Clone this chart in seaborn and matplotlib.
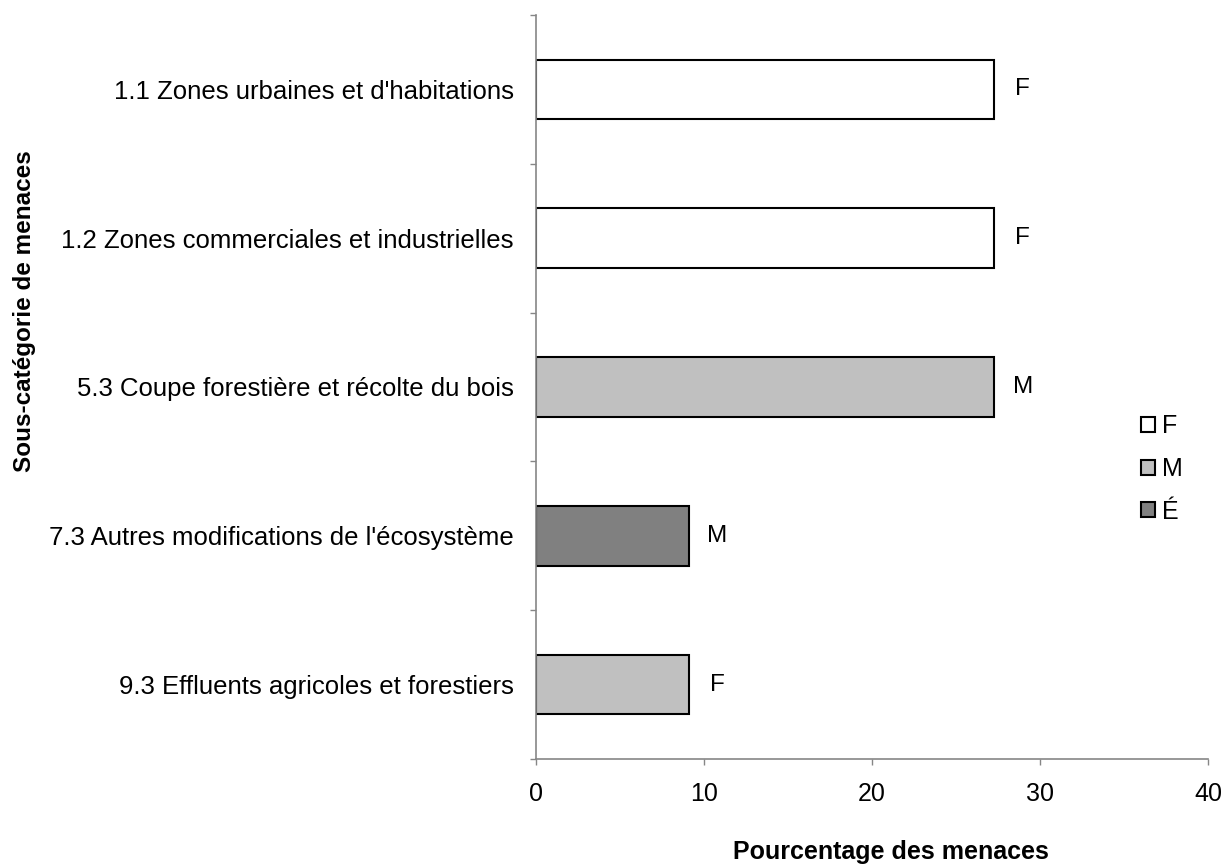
import matplotlib
matplotlib.use("Agg")
import matplotlib.pyplot as plt
from matplotlib.patches import Patch
import seaborn as sns
import pandas as pd

categories = [
    "1.1 Zones urbaines et d'habitations",
    "1.2 Zones commerciales et industrielles",
    "5.3 Coupe forestière et récolte du bois",
    "7.3 Autres modifications de l'écosystème",
    "9.3 Effluents agricoles et forestiers",
]
values = [27.27, 27.27, 27.27, 9.09, 9.09]
fill_level = ["F", "F", "M", "É", "M"]
bar_labels = ["F", "F", "M", "M", "F"]
legend_order = ["F", "M", "É"]
palette = {"F": "#FFFFFF", "M": "#C0C0C0", "É": "#808080"}

sns.set_style("white")
plt.rcParams["font.family"] = ["Liberation Sans", "DejaVu Sans"]
plt.rcParams["text.color"] = "black"
plt.rcParams["xtick.color"] = "black"
plt.rcParams["ytick.color"] = "black"

df = pd.DataFrame({"cat": categories, "val": values, "lvl": fill_level})

fig = plt.figure(figsize=(12.28, 8.67), dpi=100)
ax = fig.add_axes([536 / 1228, 1 - 759 / 867, (1208 - 536) / 1228, (759 - 15) / 867])
sns.barplot(data=df, y="cat", x="val", hue="lvl", hue_order=legend_order,
            palette=palette, dodge=False, edgecolor="black", linewidth=1.5,
            width=0.4, ax=ax, legend=False, order=categories)

for i, (v, t) in enumerate(zip(values, bar_labels)):
    ax.text(v + 1.7, i, t, va="center", ha="center", fontsize=17.5, color="black")

ax.set_xlim(0, 40)
ax.set_ylim(len(categories) - 0.5, -0.5)
ax.set_xticks([0, 10, 20, 30, 40])
ax.set_yticks(range(len(categories)))
ax.set_yticklabels(categories, fontsize=18.5)
ax.tick_params(axis="y", which="major", left=False, length=0, pad=16)
ax.tick_params(axis="x", bottom=True, length=4.5, width=1.0, color="#868686",
               labelsize=18, pad=12, direction="out")
ax.set_yticks([i - 0.5 for i in range(len(categories) + 1)], minor=True)
ax.tick_params(axis="y", which="minor", left=True, length=4.5, width=1.0,
               color="#868686", direction="out")
ax.set_xlabel("")
ax.set_ylabel("")
for s in ["top", "right"]:
    ax.spines[s].set_visible(False)
for s in ["left", "bottom"]:
    ax.spines[s].set_color("#868686")
    ax.spines[s].set_linewidth(1.2)

fig.text(891 / 1228, 1 - 852 / 867, "Pourcentage des menaces", ha="center", va="center",
         fontsize=18, fontweight="bold")
fig.text(25 / 1228, 1 - 311 / 867, "Sous-catégorie de menaces", ha="center", va="center",
         rotation=90, fontsize=17.5, fontweight="bold")

handles = [Patch(facecolor=palette[k], edgecolor="black", linewidth=1.5) for k in legend_order]
fig.legend(handles, legend_order, loc="center left", bbox_to_anchor=(1141 / 1228, 1 - 469 / 867),
           frameon=False, fontsize=18, handlelength=0.55, handleheight=0.55, handletextpad=0.3,
           labelspacing=0.75, borderaxespad=0, borderpad=0)

fig.savefig("out.png", dpi=100)
